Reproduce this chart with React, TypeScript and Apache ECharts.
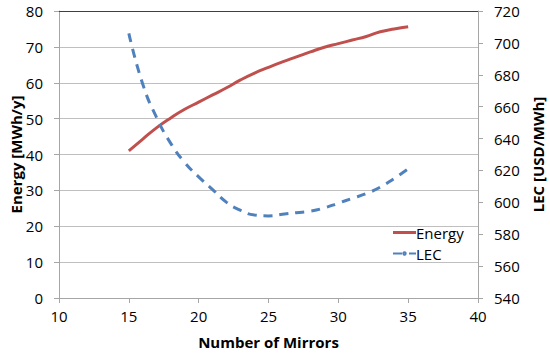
import React, { useEffect, useRef } from "react";
import * as echarts from "echarts";

const mirrors = [15, 16, 17, 18, 19, 20, 21, 22, 23, 24, 25, 26, 27, 28, 29, 30, 31, 32, 33, 34, 35];
const energy = [41.0, 44.3, 47.5, 50.2, 52.6, 54.6, 56.6, 58.6, 60.8, 62.7, 64.3, 65.8, 67.2, 68.6, 69.9, 70.9, 71.9, 72.9, 74.2, 75.0, 75.6];
const lec = [706, 674, 653, 637, 625, 616, 608, 600, 595, 592, 591.5, 592.5, 593.5, 594.5, 596.5, 599.5, 602.5, 605.5, 609.5, 615, 621];

const FONT = "Open Sans";

export default function App() {
  const ref = useRef<HTMLDivElement>(null);
  useEffect(() => {
    const chart = echarts.init(ref.current!, null, { renderer: "svg" });
    const axisLabel = { color: "#000", fontFamily: FONT, fontSize: 15 };
    const nameStyle = { color: "#000", fontFamily: FONT, fontSize: 15, fontWeight: "bold" as const };
    chart.setOption({
      animation: false,
      grid: { left: 59, right: 72, top: 11, bottom: 59, outerBoundsMode: "none", containLabel: false },
      legend: {
        left: 387,
        top: 220,
        orient: "vertical",
        itemWidth: 23,
        itemHeight: 3,
        itemGap: 6,
        textStyle: { color: "#000", fontFamily: FONT, fontSize: 15, padding: [0, 0, 0, -5] },
        data: [
          { name: "Energy", icon: "rect" },
          { name: "LEC" },
        ],
      },
      xAxis: [
        {
          type: "value",
          min: 10,
          max: 40,
          interval: 5,
          name: "Number of Mirrors",
          nameLocation: "middle",
          nameGap: 36,
          nameTextStyle: nameStyle,
          axisLine: { show: true, lineStyle: { color: "#a6a6a6" } },
          axisTick: { show: true, length: 5, lineStyle: { color: "#a6a6a6" } },
          axisLabel: { ...axisLabel, margin: 10 },
          splitLine: { show: false },
        },
        {
          type: "value",
          min: 10,
          max: 40,
          interval: 5,
          position: "top",
          axisLine: { show: true, onZero: false, lineStyle: { color: "#404040" } },
          axisTick: { show: false },
          axisLabel: { show: false },
          splitLine: { show: false },
        },
      ],
      yAxis: [
        {
          type: "value",
          min: 0,
          max: 80,
          interval: 10,
          name: "Energy [MWh/y]",
          nameLocation: "middle",
          nameGap: 36,
          nameMoveOverlap: false,
          nameTextStyle: nameStyle,
          axisLine: { show: true, lineStyle: { color: "#a6a6a6" } },
          axisTick: { show: true, length: 5, lineStyle: { color: "#a6a6a6" } },
          axisLabel: { ...axisLabel, margin: 16 },
          splitLine: { show: true, lineStyle: { color: "#bfbfbf" } },
        },
        {
          type: "value",
          min: 540,
          max: 720,
          interval: 20,
          position: "right",
          name: "LEC [USD/MWh]",
          nameLocation: "middle",
          nameGap: 50,
          nameRotate: 90,
          nameTextStyle: nameStyle,
          axisLine: { show: true, lineStyle: { color: "#a6a6a6" } },
          axisTick: { show: true, length: 5, lineStyle: { color: "#a6a6a6" } },
          axisLabel: { ...axisLabel, margin: 16 },
          splitLine: { show: false },
        },
      ],
      series: [
        {
          name: "Energy",
          type: "line",
          xAxisIndex: 0,
          yAxisIndex: 0,
          smooth: true,
          showSymbol: false,
          lineStyle: { color: "#c0504d", width: 3 },
          itemStyle: { color: "#c0504d" },
          data: mirrors.map((m, i) => [m, energy[i]]),
        },
        {
          name: "LEC",
          type: "line",
          xAxisIndex: 0,
          yAxisIndex: 1,
          smooth: true,
          showSymbol: false,
          lineStyle: { color: "#4f81bd", width: 3, type: [9, 7] },
          itemStyle: { color: "#4f81bd" },
          data: mirrors.map((m, i) => [m, lec[i]]),
        },
      ],
    });
    return () => chart.dispose();
  }, []);
  return <div ref={ref} style={{ width: 550, height: 357, position: "absolute", left: 0, top: 0 }} />;
}
